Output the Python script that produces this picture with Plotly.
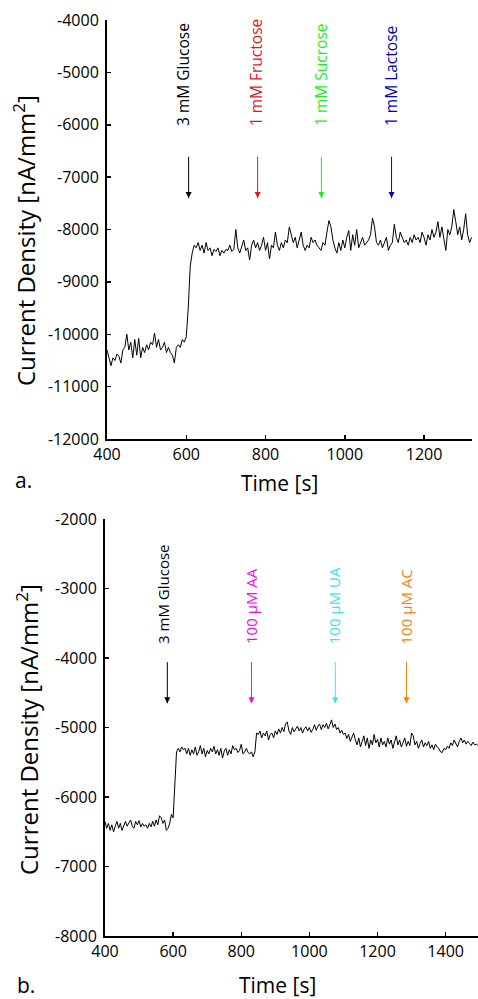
import plotly.graph_objects as go

W, H = 478, 999

# ---------------- data (panel a) ----------------
time_a = list(range(400, 1325, 5))
current_a = [
    -10300, -10450, -10600, -10450, -10500, -10380, -10420, -10550, -10300, -10250,
    -10000, -10300, -10150, -10450, -10100, -10400, -10080, -10450, -10250, -10350,
    -10200, -10300, -10150, -10200, -9980, -10250, -10100, -10300, -10250, -10150,
    -10350, -10250, -10350, -10400, -10550, -10250, -10200, -10250, -10100, -10150,
    -10050, -9500, -8700, -8450, -8300, -8350, -8250, -8400, -8300, -8450,
    -8250, -8400, -8350, -8500, -8380, -8420, -8350, -8500, -8400, -8450,
    -8380, -8400, -8300, -8420, -8380, -8000, -8350, -8450, -8300, -8200,
    -8400, -8350, -8580, -8300, -8200, -8350, -8250, -8400, -8300, -8150,
    -8400, -8250, -8560, -8300, -8350, -8050, -8300, -8400, -8250, -8350,
    -8200, -8250, -7950, -8100, -8250, -8150, -8350, -8200, -8050, -8300,
    -8400, -8300, -8350, -8150, -8250, -8200, -8300, -8350, -8400, -8250,
    -8300, -8050, -7830, -7950, -8200, -8350, -8450, -8250, -8400, -8200,
    -8350, -8150, -8020, -8400, -8100, -8300, -8000, -8350, -8250, -8150,
    -8300, -8250, -8200, -8100, -7780, -7950, -8250, -8300, -8200, -8350,
    -8250, -8150, -8400, -8300, -8250, -7900, -8150, -8250, -8050, -8150,
    -8250, -8200, -8300, -8150, -8250, -8100, -8200, -8150, -8250, -8050,
    -8150, -8300, -8100, -8200, -8000, -8150, -8050, -7850, -8150, -7950,
    -8150, -8400, -8000, -8100, -7950, -7620, -7850, -8100, -7950, -8200,
    -8000, -7700, -8100, -8250, -8150, -8050, -8250, -7700, -7800,
]

# ---------------- data (panel b) ----------------
time_b = list(range(400, 1500, 5))
current_b = [
    -6350, -6450, -6380, -6480, -6400, -6500, -6420, -6350, -6450, -6380,
    -6480, -6400, -6350, -6420, -6380, -6330, -6420, -6450, -6350, -6400,
    -6340, -6430, -6380, -6420, -6400, -6450, -6380, -6430, -6350, -6420,
    -6330, -6400, -6270, -6300, -6380, -6330, -6480, -6450, -6380, -6250,
    -6300, -5700, -5350, -5300, -5350, -5280, -5320, -5300, -5380, -5300,
    -5400, -5320, -5380, -5280, -5400, -5350, -5260, -5380, -5300, -5420,
    -5330, -5380, -5300, -5350, -5270, -5380, -5320, -5400, -5300, -5440,
    -5340, -5300, -5400, -5320, -5380, -5260, -5320, -5300, -5360, -5330,
    -5240, -5380, -5350, -5300, -5360, -5380, -5350, -5420, -5350, -5080,
    -5100, -5050, -5150, -5080, -5120, -5050, -5180, -5100, -5080, -5150,
    -5050, -5100, -5020, -5080, -5000, -5060, -4950, -4920, -5050, -5100,
    -5000, -5060, -5020, -4980, -5050, -5000, -5080, -5020, -4990, -5050,
    -5000, -5070, -5030, -4960, -5040, -4980, -4950, -5030, -4960, -5000,
    -4940, -5020, -4960, -4890, -5000, -4950, -5030, -5000, -5080, -5040,
    -5100, -5080, -5160, -5100, -5200, -5140, -5080, -5180, -5250, -5150,
    -5280, -5200, -5120, -5260, -5150, -5300, -5180, -5250, -5100, -5220,
    -5170, -5280, -5150, -5250, -5200, -5280, -5150, -5240, -5180, -5300,
    -5200, -5120, -5250, -5180, -5280, -5220, -5150, -5270, -5200, -5260,
    -5080, -5120, -5250, -5200, -5300, -5230, -5180, -5280, -5220, -5260,
    -5200, -5300, -5250, -5320, -5240, -5280, -5300, -5350, -5360, -5300,
    -5320, -5270, -5300, -5220, -5260, -5180, -5220, -5280, -5200, -5150,
    -5220, -5180, -5240, -5200, -5230, -5260, -5210, -5250, -5240, -5260,
]

# tick values / labels
xticks_a = [400, 600, 800, 1000, 1200]
yticks_a = [-12000, -11000, -10000, -9000, -8000, -7000, -6000, -5000, -4000]
xticks_b = [400, 600, 800, 1000, 1200, 1400]
yticks_b = [-8000, -7000, -6000, -5000, -4000, -3000, -2000]

# ---------------- annotations (additions) ----------------
labels_a = ["3 mM Glucose", "1 mM Fructose", "1 mM Sucrose", "1 mM Lactose"]
arrow_x_a = [606, 780, 941, 1118]
label_x_a = [593, 778, 940, 1117]
colors_a = ["#000000", "#e8141c", "#19f019", "#0000c8"]

labels_b = ["3 mM Glucose", "100 μM AA", "100 μM UA", "100 μM AC"]
arrow_x_b = [583, 830, 1076, 1285]
label_x_b = [568, 828, 1071, 1283]
colors_b = ["#000000", "#ff00ff", "#33e6f2", "#ff7f0e"]

FONT = "Open Sans"

fig = go.Figure()
fig.add_trace(go.Scatter(x=time_a, y=current_a, mode="lines",
                         line=dict(color="black", width=1), xaxis="x", yaxis="y",
                         showlegend=False, hoverinfo="skip"))
fig.add_trace(go.Scatter(x=time_b, y=current_b, mode="lines",
                         line=dict(color="black", width=1), xaxis="x2", yaxis="y2",
                         showlegend=False, hoverinfo="skip"))


# arrows as line + arrowhead marker
def add_arrow(xv, y_top, y_bot, col, xa, ya):
    fig.add_trace(go.Scatter(x=[xv, xv], y=[y_top, y_bot], mode="lines",
                             line=dict(color=col, width=1), xaxis=xa, yaxis=ya,
                             showlegend=False, hoverinfo="skip"))
    fig.add_trace(go.Scatter(x=[xv], y=[y_bot], mode="markers",
                             marker=dict(symbol="arrow-down", size=6, color=col,
                                         line=dict(width=0)),
                             xaxis=xa, yaxis=ya, showlegend=False, hoverinfo="skip"))


for xv, col in zip(arrow_x_a, colors_a):
    add_arrow(xv, -6610, -7400, col, "x", "y")
for xv, col in zip(arrow_x_b, colors_b):
    add_arrow(xv, -4060, -4650, col, "x2", "y2")


def px_x(p):
    return p / W


def px_y(p):
    return 1 - p / H


def tick_text(vals):
    return [str(v) for v in vals]


axis_common = dict(showgrid=False, zeroline=False, showline=True, linecolor="black",
                   linewidth=2, ticks="inside", ticklen=4, tickwidth=1.5, tickcolor="black",
                   tickfont=dict(family=FONT, size=16, color="black"), mirror=False,
                   automargin=False, tickmode="array")

fig.update_layout(
    width=W, height=H,
    margin=dict(l=0, r=0, t=0, b=0),
    paper_bgcolor="white", plot_bgcolor="white",
    xaxis=dict(domain=[px_x(107), px_x(472)], range=[400, 1321], anchor="y",
               tickvals=xticks_a, ticktext=tick_text(xticks_a), **axis_common),
    yaxis=dict(domain=[px_y(439), px_y(20)], range=[-12000, -4000], anchor="x",
               tickvals=yticks_a, ticktext=tick_text(yticks_a), ticklabelstandoff=3,
               **axis_common),
    xaxis2=dict(domain=[px_x(105), 1.0], range=[400, 1495], anchor="y2",
                tickvals=xticks_b, ticktext=tick_text(xticks_b), **axis_common),
    yaxis2=dict(domain=[px_y(936), px_y(519)], range=[-8000, -2000], anchor="x2",
                tickvals=yticks_b, ticktext=tick_text(yticks_b), ticklabelstandoff=3,
                **axis_common),
)

ann = []
for lab, xv, col in zip(labels_a, label_x_a, colors_a):
    ann.append(dict(x=xv, y=-6060, xref="x", yref="y", text=lab, showarrow=False,
                    textangle=-90, xanchor="center", yanchor="bottom",
                    font=dict(family=FONT, size=15.5, color=col)))
for lab, xv, col in zip(labels_b, label_x_b, colors_b):
    ann.append(dict(x=xv, y=-3830, xref="x2", yref="y2", text=lab, showarrow=False,
                    textangle=-90, xanchor="center", yanchor="bottom",
                    font=dict(family=FONT, size=15, color=col)))

ytitle = "Current Density [nA/mm<sup>2</sup>]"
yt_font = dict(family=FONT, size=24, color="black")
xt_font = dict(family=FONT, size=21, color="black")
ann += [
    dict(x=px_x(24), y=px_y(241), xref="paper", yref="paper", text=ytitle, textangle=-90,
         showarrow=False, font=yt_font, xanchor="center", yanchor="middle"),
    dict(x=px_x(27), y=px_y(730), xref="paper", yref="paper", text=ytitle, textangle=-90,
         showarrow=False, font=yt_font, xanchor="center", yanchor="middle"),
    dict(x=px_x(279), y=px_y(483), xref="paper", yref="paper", text="Time [s]",
         showarrow=False, font=xt_font, xanchor="center", yanchor="middle"),
    dict(x=px_x(277), y=px_y(985), xref="paper", yref="paper", text="Time [s]",
         showarrow=False, font=xt_font, xanchor="center", yanchor="middle"),
    dict(x=px_x(13), y=px_y(480), xref="paper", yref="paper", text="a.",
         showarrow=False, font=xt_font, xanchor="left", yanchor="middle"),
    dict(x=px_x(15), y=px_y(985), xref="paper", yref="paper", text="b.",
         showarrow=False, font=xt_font, xanchor="left", yanchor="middle"),
]
fig.update_layout(annotations=ann)

fig.write_html("out.html", config={"displayModeBar": False, "staticPlot": True},
               post_script="document.body.style.margin='0';document.body.style.overflow='hidden';")
